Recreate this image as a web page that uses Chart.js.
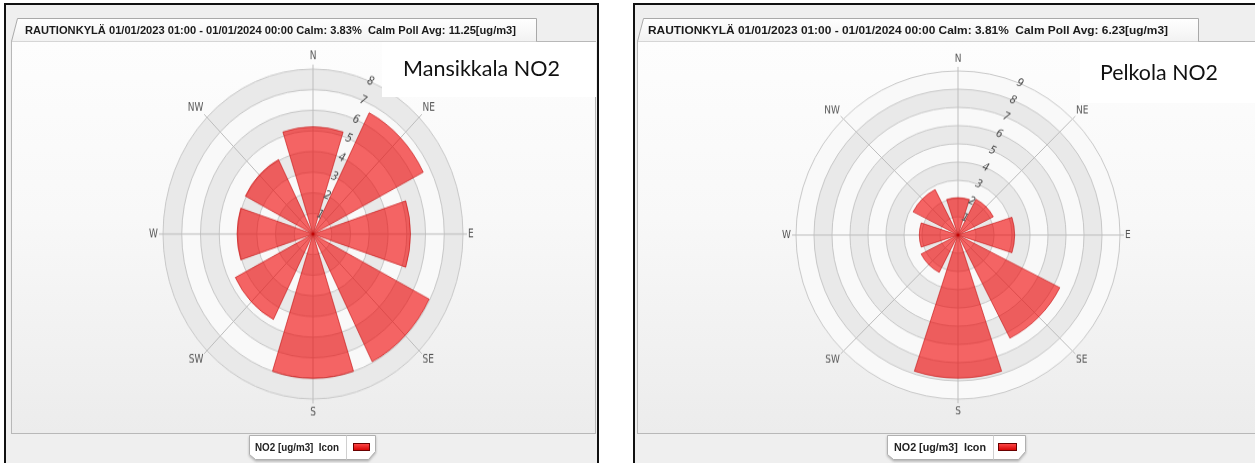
<!DOCTYPE html>
<html>
<head>
<meta charset="utf-8">
<script src="https://cdn.jsdelivr.net/npm/chart.js@4/dist/chart.umd.min.js"></script>
<style>
    html, body { margin: 0; padding: 0; background: #fff; width: 1255px; height: 463px; overflow: hidden; position: relative; }
    .frame { position: absolute; border: 2px solid #111; background: #efefef; box-sizing: border-box; }
    .plot { position: absolute; border: 1px solid #b8b8b8; box-sizing: border-box;
            background: linear-gradient(#fdfdfd, #f8f8f8 45%, #ececec); }
    .rose { position: absolute; z-index: 1; }
    #shapes { position: absolute; left: 0; top: 0; z-index: 2; }
    .txt { position: absolute; z-index: 3; white-space: nowrap; transform-origin: 0 50%; }
    .title { font: bold 11.5px "Liberation Sans", Arial, sans-serif; color: #1a1a1a; line-height: 13px; }
    .legend { font: bold 10.5px "Liberation Sans", Arial, sans-serif; color: #222; line-height: 12px; }
    .note { position: absolute; background: #fff; z-index: 4; }
    .note span { position: absolute; white-space: nowrap; font: 22px Lato, "Open Sans", sans-serif; color: #111;
                 line-height: 22px; transform-origin: 0 50%; }
</style>
</head>
<body>
<div class="frame" style="left:4px;top:3px;width:595px;height:480px"></div>
<div class="frame" style="left:633px;top:3px;width:700px;height:480px"></div>
<div class="plot" style="left:11px;top:41px;width:585px;height:393px"></div>
<div class="plot" style="left:637px;top:41px;width:700px;height:393px"></div>

<div class="rose" style="left:129px;top:50px;transform-origin:184px 184px;transform:scaleY(1.1)">
    <canvas id="mansikkala" width="368" height="368"></canvas>
</div>
<div class="rose" style="left:762px;top:39px;transform-origin:196px 196px;transform:scaleY(1.013)">
    <canvas id="pelkola" width="392" height="392"></canvas>
</div>

<svg id="shapes" width="1255" height="463">
    <defs>
        <linearGradient id="tabFill" x1="0" y1="0" x2="0" y2="1">
            <stop offset="0" stop-color="#ffffff"/>
            <stop offset="1" stop-color="#f2f2f2"/>
        </linearGradient>
        <linearGradient id="swatchFill" x1="0" y1="0" x2="0" y2="1">
            <stop offset="0" stop-color="#ff4a4a"/>
            <stop offset="1" stop-color="#d40000"/>
        </linearGradient>
        <filter id="shadow" x="-10%" y="-20%" width="120%" height="160%">
            <feDropShadow dx="0" dy="1.5" stdDeviation="1" flood-color="#888" flood-opacity="0.6"/>
        </filter>
    </defs>
    <!-- title tabs -->
    <polygon points="11.5,41.5 17.5,18.5 536.5,18.5 536.5,41.5" fill="url(#tabFill)"/>
    <polyline points="11.5,41.5 17.5,18.5 536.5,18.5 536.5,41.5" fill="none" stroke="#a9a9a9"/>
    <polygon points="637.5,41.5 643.5,18.5 1198.5,18.5 1198.5,41.5" fill="url(#tabFill)"/>
    <polyline points="637.5,41.5 643.5,18.5 1198.5,18.5 1198.5,41.5" fill="none" stroke="#a9a9a9"/>
    <!-- legend tabs -->
    <polygon points="249.5,435.5 375.5,435.5 375.5,451.5 368.5,459.5 255.5,459.5 249.5,454.5" fill="#fff" stroke="#b0b0b0" filter="url(#shadow)"/>
    <line x1="346.5" y1="435.5" x2="346.5" y2="459.5" stroke="#d0d0d0"/>
    <rect x="353.5" y="443.5" width="16" height="7" fill="url(#swatchFill)" stroke="#6a0000"/>
    <polygon points="887.5,435.5 1025.5,435.5 1025.5,451.5 1018.5,459.5 893.5,459.5 887.5,454.5" fill="#fff" stroke="#b0b0b0" filter="url(#shadow)"/>
    <line x1="993.5" y1="435.5" x2="993.5" y2="459.5" stroke="#d0d0d0"/>
    <rect x="998.5" y="443.5" width="18" height="7" fill="url(#swatchFill)" stroke="#6a0000"/>
</svg>

<span class="txt title" style="left:25px;top:24px" data-w="491">RAUTIONKYLÄ 01/01/2023 01:00 - 01/01/2024 00:00 Calm: 3.83%&nbsp; Calm Poll Avg: 11.25[ug/m3]</span>
<span class="txt title" style="left:648px;top:24px" data-w="520">RAUTIONKYLÄ 01/01/2023 01:00 - 01/01/2024 00:00 Calm: 3.81%&nbsp; Calm Poll Avg: 6.23[ug/m3]</span>
<span class="txt legend" style="left:255px;top:441px" data-w="84">NO2 [ug/m3]&nbsp; Icon</span>
<span class="txt legend" style="left:894px;top:441px" data-w="92">NO2 [ug/m3]&nbsp; Icon</span>

<div class="note" style="left:382px;top:42px;width:214px;height:55px">
    <span style="left:21px;top:15px" data-w="157">Mansikkala NO2</span>
</div>
<div class="note" style="left:1080px;top:42px;width:175px;height:61px">
    <span style="left:20px;top:19px" data-w="118">Pelkola NO2</span>
</div>

<script>
// wind directions, clockwise from north
var directions = ["N", "NE", "E", "SE", "S", "SW", "W", "NW"];

// NO2 [ug/m3] per direction
var mansikkalaNo2 = [5.2, 6.6, 5.2, 6.95, 7.0, 4.65, 4.05, 4.05];
var pelkolaNo2 = [2.05, 2.2, 3.15, 6.35, 7.85, 2.3, 2.15, 2.8];

// outermost ring (ticks run 1..max)
var mansikkalaRingMax = 8;
var pelkolaRingMax = 9;

var SECTOR_ANGLE = 36;
var GAP_ANGLE = 9;
var TICK_ANGLE = 22.5;
var PAD = 34;

var BAR_FILL = "rgba(240, 0, 0, 0.6)";
var BAR_BORDER = "rgba(190, 0, 0, 0.55)";
var RING_COLOR = "#c8c8c8";
var BAND_GRAY = "#e9e9e9";
var BAND_WHITE = "#f9f9f9";
var LABEL_FONT = '10px "DejaVu Sans Condensed", "Liberation Sans Narrow", sans-serif';
var TICK_FONT = 'italic 11px "DejaVu Sans Condensed", "Liberation Sans Narrow", sans-serif';

// bands, compass lines, direction labels and ring numbers
var roseDecor = {
    id: "roseDecor",
    beforeDraw: function (chart) {
        var scale = chart.scales.r;
        var ctx = chart.ctx;
        ctx.save();
        for (var v = scale.max; v >= 1; v--) {
            ctx.beginPath();
            ctx.arc(scale.xCenter, scale.yCenter, scale.getDistanceFromCenterForValue(v), 0, Math.PI * 2);
            ctx.fillStyle = v % 2 === 0 ? BAND_GRAY : BAND_WHITE;
            ctx.fill();
        }
        ctx.restore();
    },
    beforeDatasetsDraw: function (chart) {
        var scale = chart.scales.r;
        var ctx = chart.ctx;
        var outer = scale.getDistanceFromCenterForValue(scale.max) + 4;
        ctx.save();
        ctx.strokeStyle = "#bdbdbd";
        ctx.lineWidth = 1;
        directions.forEach(function (d, i) {
            var a = (i * 45 - 90) * Math.PI / 180;
            ctx.beginPath();
            ctx.moveTo(scale.xCenter, scale.yCenter);
            ctx.lineTo(scale.xCenter + Math.cos(a) * outer, scale.yCenter + Math.sin(a) * outer);
            ctx.stroke();
        });
        ctx.restore();
    },
    afterDatasetsDraw: function (chart) {
        var scale = chart.scales.r;
        var ctx = chart.ctx;
        var outer = scale.getDistanceFromCenterForValue(scale.max);
        ctx.save();
        ctx.font = LABEL_FONT;
        ctx.fillStyle = "#555";
        directions.forEach(function (d, i) {
            var deg = i * 45;
            var a = (deg - 90) * Math.PI / 180;
            var sx = Math.sin(deg * Math.PI / 180), cy = Math.cos(deg * Math.PI / 180);
            var r = outer + (Math.abs(sx) < 0.1 ? 7 : 5);
            ctx.textAlign = sx > 0.1 ? "left" : (sx < -0.1 ? "right" : "center");
            ctx.textBaseline = cy > 0.1 ? "bottom" : (cy < -0.1 ? "top" : "middle");
            ctx.fillText(d, scale.xCenter + Math.cos(a) * r, scale.yCenter + Math.sin(a) * r);
        });

        // ring numbers along the gap between N and NE
        ctx.translate(scale.xCenter, scale.yCenter);
        ctx.rotate(TICK_ANGLE * Math.PI / 180);
        ctx.font = TICK_FONT;
        ctx.fillStyle = "#4a4a4a";
        ctx.textAlign = "center";
        ctx.textBaseline = "middle";
        scale.ticks.forEach(function (t) {
            if (t.value === 0) return;
            ctx.fillText(String(t.value), 0, -scale.getDistanceFromCenterForValue(t.value));
        });
        ctx.restore();
    }
};

function makeRose(canvasId, values, ringMax) {
    var labels = [];
    var data = [];
    values.forEach(function (v, i) {
        labels.push(directions[i], "");
        data.push(v, 0);
    });
    return new Chart(document.getElementById(canvasId), {
        type: "polarArea",
        data: {
            labels: labels,
            datasets: [{
                label: "NO2 [ug/m3]",
                data: data,
                angle: function (c) { return c.dataIndex % 2 === 0 ? SECTOR_ANGLE : GAP_ANGLE; },
                backgroundColor: function (c) { return c.dataIndex % 2 === 0 ? BAR_FILL : "rgba(0,0,0,0)"; },
                borderColor: BAR_BORDER,
                borderWidth: function (c) { return c.dataIndex % 2 === 0 ? 1 : 0; }
            }]
        },
        options: {
            responsive: false,
            animation: false,
            layout: {padding: PAD},
            plugins: {legend: {display: false}, tooltip: {enabled: false}},
            scales: {
                r: {
                    min: 0,
                    max: ringMax,
                    startAngle: -SECTOR_ANGLE / 2,
                    ticks: {display: false, stepSize: 1},
                    pointLabels: {display: false},
                    angleLines: {display: false},
                    grid: {circular: true, color: RING_COLOR, lineWidth: 1}
                }
            }
        },
        plugins: [roseDecor]
    });
}

makeRose("mansikkala", mansikkalaNo2, mansikkalaRingMax);
makeRose("pelkola", pelkolaNo2, pelkolaRingMax);

// squeeze the text boxes to the widths seen in the picture
document.querySelectorAll("[data-w]").forEach(function (el) {
    el.style.display = "inline-block";
    var w = el.getBoundingClientRect().width;
    el.style.transform = "scaleX(" + (parseFloat(el.getAttribute("data-w")) / w) + ")";
});
</script>
</body>
</html>
